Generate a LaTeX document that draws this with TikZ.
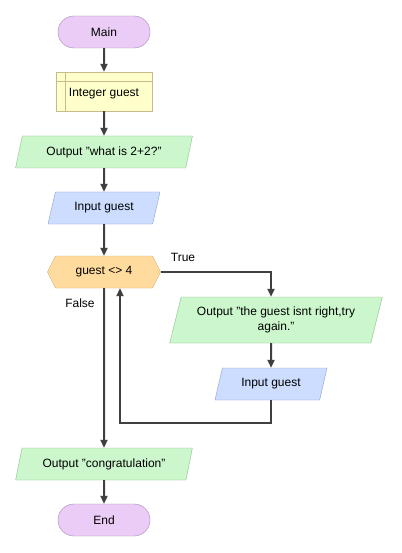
\documentclass[tikz,border=0pt]{standalone}
\usepackage{fontspec}
\setmainfont{Liberation Sans}
\usepackage{xcolor}
\usetikzlibrary{shapes.geometric,shapes.misc,shapes.symbols,arrows.meta}

\definecolor{termfill}{HTML}{EBCCF7}
\definecolor{termdraw}{HTML}{A08CB4}
\definecolor{declfill}{HTML}{FFFFCC}
\definecolor{decldraw}{HTML}{C8BA8C}
\definecolor{outfill}{HTML}{CCF7CC}
\definecolor{outdraw}{HTML}{8CBE8C}
\definecolor{infill}{HTML}{CCDDFF}
\definecolor{indraw}{HTML}{8CA0CD}
\definecolor{decfill}{HTML}{FFDC9E}
\definecolor{decdraw}{HTML}{D2AA6E}
\definecolor{flowcol}{HTML}{404040}

\tikzset{
  box/.style={inner sep=2pt,font=\fontsize{12}{15}\selectfont,align=center},
  term/.style={box,rounded rectangle,fill=termfill,draw=termdraw,minimum width=96pt,minimum height=32pt},
  decl/.style={box,rectangle,fill=declfill,draw=decldraw,minimum width=96pt,minimum height=39pt},
  io/.style={box,trapezium,trapezium left angle=72,trapezium right angle=108,trapezium stretches=true},
  outbox/.style={io,fill=outfill,draw=outdraw},
  inbox/.style={io,fill=infill,draw=indraw,minimum width=112pt,minimum height=32pt},
  cond/.style={box,signal,signal to=west and east,signal pointer angle=127,fill=decfill,draw=decdraw,minimum width=113pt,minimum height=32pt},
  flow/.style={draw=flowcol,line width=2pt,-{Triangle[length=8pt,width=7pt]}},
  lbl/.style={font=\fontsize{12}{15}\selectfont}
}

\begin{document}
\begin{tikzpicture}[x=1pt,y=-1pt]
        \useasboundingbox[fill=white] (0,0) rectangle (401,553);
        %nodes
        \node[term] (main) at (104,32) {Main};
        \node[decl] (int) at (104,91.5) {\raisebox{-5.5pt}[0pt][0pt]{Integer guest}};
        \draw[decldraw] ([xshift=9pt]int.north west) -- ([xshift=9pt]int.south west);
        \draw[decldraw] ([yshift=-9pt]int.north west) -- ([yshift=-9pt]int.north east);
        \node[outbox,minimum width=177pt,minimum height=32pt] (ask) at (104,152) {Output "what is 2+2?"};
        \node[inbox] (inp) at (104,208) {Input guest};
        \node[cond] (dec) at (104,272) {guest <> 4};
        \node[outbox,minimum width=213pt,minimum height=46pt] (wrong) at (276,320) {Output "the guest isnt right,try\\again."};
        \node[inbox] (again) at (271,384) {Input guest};
        \node[outbox,minimum width=177pt,minimum height=32pt] (congr) at (104,464) {Output "congratulation"};
        \node[term] (end) at (104,520) {End};

        %labels
        \node[lbl] (yes) at (183,257) {True};
        \node[lbl] (no) at (80,303) {False};

        %connectors
        \draw[flow] (main) -- (int);
        \draw[flow] (int) -- (ask);
        \draw[flow] (ask) -- (inp);
        \draw[flow] (inp) -- (dec);
        \draw[flow] (dec.east) -| ([xshift=-5pt]wrong.north);
        \draw[flow] ([xshift=-5pt]wrong.south) -- (again);
        \draw[flow] (again.south) -- ++(0,23) -| ([xshift=16pt]dec.south);
        \draw[flow] (dec) -- (congr);
        \draw[flow] (congr) -- (end);
\end{tikzpicture}
\end{document}
